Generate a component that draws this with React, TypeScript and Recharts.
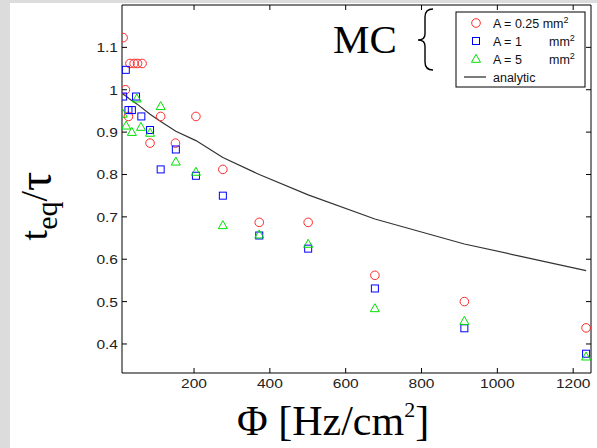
import React from 'react';
import { ScatterChart, Scatter, XAxis, YAxis } from 'recharts';

// Φ [Hz/cm²] and t_eq/τ
const phiSmall = [13, 19, 27, 31, 42, 51, 63, 84, 112, 151, 205, 276, 372, 501, 677, 913, 1234];
const ratioSmall = [1.123, 1.0, 0.937, 1.062, 1.062, 1.062, 1.062, 0.874, 0.937, 0.874, 0.937, 0.812, 0.687, 0.687, 0.562, 0.5, 0.438];

const phiMid = [13, 20, 27, 36, 47, 61, 84, 112, 152, 205, 276, 372, 501, 677, 913, 1234];
const ratioMid = [0.984, 1.047, 0.952, 0.952, 0.984, 0.937, 0.905, 0.812, 0.859, 0.797, 0.75, 0.656, 0.625, 0.531, 0.437, 0.377];

const phiLarge = [12, 21, 36, 49, 60, 84, 112, 152, 205, 276, 372, 501, 677, 913, 1234];
const ratioLarge = [0.943, 0.915, 0.9, 0.979, 0.912, 0.898, 0.961, 0.83, 0.806, 0.68, 0.658, 0.636, 0.484, 0.454, 0.37];

const phiAnalytic = [12, 20, 30, 50, 84, 112, 152, 205, 276, 372, 501, 677, 913, 1234];
const ratioAnalytic = [0.99, 0.985, 0.978, 0.966, 0.942, 0.925, 0.902, 0.88, 0.84, 0.8, 0.752, 0.695, 0.636, 0.573];

const phiTicks = [200, 400, 600, 800, 1000, 1200];
const ratioTicks = [0.4, 0.5, 0.6, 0.7, 0.8, 0.9, 1, 1.1];

const zip = (xs: number[], ys: number[]) => xs.map((x, i) => ({ x, y: ys[i] }));

const smallPts = zip(phiSmall, ratioSmall);
const midPts = zip(phiMid, ratioMid);
const largePts = zip(phiLarge, ratioLarge);
const analyticPts = zip(phiAnalytic, ratioAnalytic);

const RED = '#ff2a2a';
const BLUE = '#0000ff';
const GREEN = '#00e000';
const SANS = '"Liberation Sans", Arial, sans-serif';
const SERIF = '"Liberation Serif", "Times New Roman", serif';

const xDomain = [10, 1247];
const yDomain = [0.3315, 1.2];

// matlab-ish ticks: short marks pointing into the box, labels slightly wide
const BottomTick = ({ x, y, payload }: any) => (
  <g>
    <line x1={x} y1={y} x2={x} y2={y - 5} stroke="#000" />
    <g transform={`translate(${x},${y + 15}) scale(1.15,1)`}>
      <text x={0} y={0} textAnchor="middle" fontSize={13.5} fontFamily={SANS} fill="#222">
        {payload.value}
      </text>
    </g>
  </g>
);

const LeftTick = ({ x, y, payload }: any) => (
  <g>
    <line x1={x} y1={y} x2={x + 5} y2={y} stroke="#000" />
    <g transform={`translate(${x - 4},${y + 5}) scale(1.15,1)`}>
      <text x={0} y={0} textAnchor="end" fontSize={13.5} fontFamily={SANS} fill="#222">
        {payload.value}
      </text>
    </g>
  </g>
);

const TopTick = ({ x, y }: any) => <line x1={x} y1={y} x2={x} y2={y + 5} stroke="#000" />;
const RightTick = ({ x, y }: any) => <line x1={x} y1={y} x2={x - 5} y2={y} stroke="#000" />;

const circle = ({ cx, cy }: any) => <circle cx={cx} cy={cy} r={4.3} fill="none" stroke={RED} strokeWidth={1} />;
const square = ({ cx, cy }: any) => (
  <rect x={cx - 3.5} y={cy - 3.5} width={7} height={7} fill="none" stroke={BLUE} strokeWidth={1} />
);
const triangle = ({ cx, cy }: any) => (
  <path d={`M${cx},${cy - 4.7}L${cx + 4.5},${cy + 3.3}L${cx - 4.5},${cy + 3.3}Z`} fill="none" stroke={GREEN} strokeWidth={1} />
);
const nothing = () => <g />;

const Overlay = () => (
  <svg width={597} height={448} style={{ position: 'absolute', left: 0, top: 0, pointerEvents: 'none' }}>
    <text x={333} y={53} fontSize={41} fontFamily={SERIF} fill="#000">MC</text>
    <path d="M433,9 Q425,9 425,17 L425,34 Q425,40 418,40 Q425,40 425,46 L425,62 Q425,70 433,70" fill="none" stroke="#000" strokeWidth={1.4} />

    <rect x={456} y={12} width={129} height={75} fill="#fff" stroke="#000" strokeWidth={1} />
    <circle cx={476} cy={23} r={4.3} fill="none" stroke={RED} />
    <rect x={472.5} y={37.5} width={7} height={7} fill="none" stroke={BLUE} />
    <path d="M476,54.3L480.5,62.3L471.5,62.3Z" fill="none" stroke={GREEN} />
    <line x1={464} y1={77} x2={486} y2={77} stroke="#222" strokeWidth={1.2} />
    <g fontFamily={SANS} fontSize={12.5} fill="#111">
      <text x={493} y={28}>A = 0.25 mm<tspan dy={-5} fontSize={9}>2</tspan></text>
      <text x={493} y={46}>A = 1</text>
      <text x={549} y={46}>mm<tspan dy={-5} fontSize={9}>2</tspan></text>
      <text x={493} y={64}>A = 5</text>
      <text x={549} y={64}>mm<tspan dy={-5} fontSize={9}>2</tspan></text>
      <text x={493} y={82}>analytic</text>
    </g>

    <text x={237} y={435} fontSize={42} fontFamily={SERIF} fill="#000">
      Φ [Hz/cm<tspan dy={-18} fontSize={22}>2</tspan><tspan dy={18}>]</tspan>
    </text>
    <g transform="translate(47,206) rotate(-90)">
      <text x={0} y={0} textAnchor="middle" fontSize={38} fontFamily={SERIF} fill="#000">
        t<tspan dy={10} fontSize={30}>eq</tspan>
        <tspan dy={-10}>/</tspan>
        <tspan dy={4} fontSize={48}>τ</tspan>
      </text>
    </g>
  </svg>
);

export default function App() {
  return (
    <div style={{ position: 'absolute', left: 0, top: 0, width: 597, height: 448, background: '#dcdcdc' }}>
      <div style={{ position: 'absolute', left: 10, top: 3, right: 0, bottom: 0, background: '#fff' }} />
      <div style={{ position: 'absolute', left: 0, top: 0 }}>
        <ScatterChart width={597} height={448} margin={{ top: 0, right: 0, bottom: 0, left: 0 }}>
          <XAxis
            type="number"
            dataKey="x"
            domain={xDomain}
            allowDataOverflow
            ticks={phiTicks}
            height={75}
            tickSize={0}
            tickMargin={0}
            tickLine={false}
            axisLine={{ stroke: '#000' }}
            tick={BottomTick}
          />
          <XAxis
            xAxisId="top"
            orientation="top"
            type="number"
            dataKey="x"
            domain={xDomain}
            allowDataOverflow
            ticks={phiTicks}
            height={5}
            tickSize={0}
            tickMargin={0}
            tickLine={false}
            axisLine={{ stroke: '#000' }}
            tick={TopTick}
          />
          <YAxis
            type="number"
            dataKey="y"
            domain={yDomain}
            allowDataOverflow
            ticks={ratioTicks}
            width={122}
            tickSize={0}
            tickMargin={0}
            tickLine={false}
            axisLine={{ stroke: '#000' }}
            tick={LeftTick}
          />
          <YAxis
            yAxisId="right"
            orientation="right"
            type="number"
            dataKey="y"
            domain={yDomain}
            allowDataOverflow
            ticks={ratioTicks}
            width={6}
            tickSize={0}
            tickMargin={0}
            tickLine={false}
            axisLine={{ stroke: '#000' }}
            tick={RightTick}
          />
          <Scatter
            data={analyticPts}
            line={{ stroke: '#333', strokeWidth: 1.2 }}
            lineType="joint"
            shape={nothing}
            isAnimationActive={false}
          />
          <Scatter xAxisId="top" yAxisId="right" data={analyticPts} shape={nothing} isAnimationActive={false} />
          <Scatter data={smallPts} shape={circle} isAnimationActive={false} />
          <Scatter data={midPts} shape={square} isAnimationActive={false} />
          <Scatter data={largePts} shape={triangle} isAnimationActive={false} />
        </ScatterChart>
      </div>
      <Overlay />
    </div>
  );
}
